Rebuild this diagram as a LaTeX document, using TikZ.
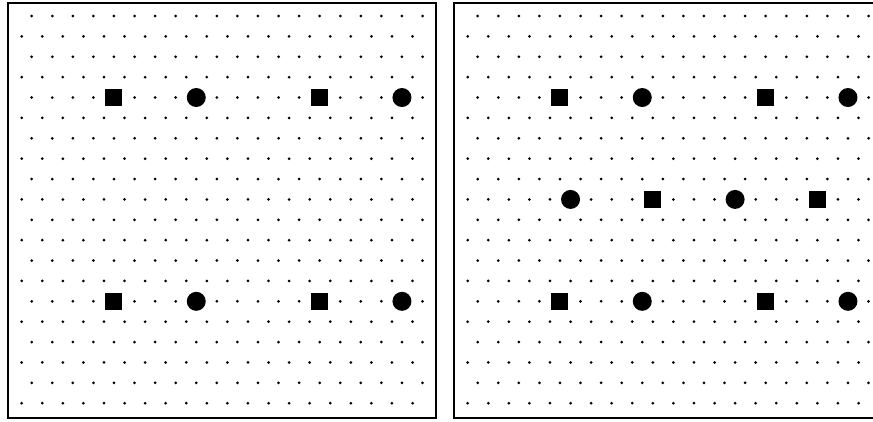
\documentclass[tikz,border=0pt]{standalone}
\usepackage{tikz}

\begin{document}
\begin{tikzpicture}[x=1pt,y=-1pt,
			panel/.style={draw, line width=1.5pt},
			griddot/.style={circle, fill, inner sep=0pt, minimum size=3pt},
			sqmark/.style={fill, inner sep=0pt, minimum size=17pt},
			discmark/.style={circle, fill, inner sep=0pt, minimum size=19pt}]
			\useasboundingbox (0,0) rectangle (873,421);
			\clip (0,0) rectangle (873,421);
			% two panels of staggered dots
			\foreach \ox/\pn in {0/L,446/R} {
				\draw[panel] (8+\ox,3) rectangle (436+\ox,418);
				\foreach \r in {0,...,19} {
					\pgfmathsetmacro\xs{ifthenelse(mod(\r,2)==0,31.7,21.7)}
					\foreach \k in {0,...,19}
						\node[griddot] (\pn-\r-\k) at ({\ox+\xs+\k*20.57},{16+\r*20.38}) {};
				}
				% marks on rows 4 and 14
				\foreach \r in {4,14}
					\foreach \k/\s in {4/sqmark,8/discmark,14/sqmark,18/discmark}
						\node[\s] (\pn-m-\r-\k) at (\pn-\r-\k) {};
			}
			% middle row of the right panel
			\foreach \k/\s in {5/discmark,9/sqmark,13/discmark,17/sqmark}
				\node[\s] (R-m-9-\k) at (R-9-\k) {};
		\end{tikzpicture}
\end{document}
